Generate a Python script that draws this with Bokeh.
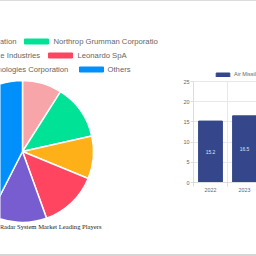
import math
from bokeh.plotting import figure
from bokeh.layouts import row
from bokeh.models import Range1d, FixedTicker, Legend, LegendItem
from bokeh.embed import file_html
from bokeh.resources import INLINE
from bokeh.core.properties import value

# ---------------- data ----------------
players = ["Lockheed Martin Corporation", "Northrop Grumman Corporation",
           "Israel Aerospace Industries", "Leonardo SpA",
           "Raytheon Technologies Corporation", "Others"]
shares = [9.0, 12.5, 9.7, 13.3, 13.0, 42.5]
player_colors = ["#F7A5A8", "#00E396", "#FEB019", "#FF4560", "#775DD0", "#008FFB"]

years = ["2022", "2023"]
market_size = [15.2, 16.5]
y_ticks = [0, 5, 10, 15, 20, 25]
bar_series = "Air Missile Defense Radar System Market Size"
pie_title = "Air Missile Defense Radar System Market Leading Players"

# ---------------- layout helpers ----------------
H = 253
def sy(ypx):
    return 254 - ypx

SANS = value("Liberation Sans")
GREY = "#666666"

# ---------------- pie ----------------
pie = figure(width=158, height=H, x_range=Range1d(0, 158), y_range=Range1d(0, H),
             output_backend="svg", toolbar_location=None, min_border=0)
pie.axis.visible = False
pie.grid.visible = False
pie.outline_line_color = None
pie.frame_align = False

total = sum(shares)
cum = 0.0
starts, ends = [], []
for s in shares:
    starts.append(math.pi / 2 - 2 * math.pi * cum / total)
    cum += s
    ends.append(math.pi / 2 - 2 * math.pi * cum / total)
pie.wedge(x=22, y=sy(151), radius=71, start_angle=starts, end_angle=ends,
          direction="clock", fill_color=player_colors, line_color="white", line_width=1.5)

# legend (row_y, swatch_left, text_x, text_align)
legend_layout = [(41, -112, 16, "right"), (41, 24, 53, "left"),
                 (55, -82, 40, "right"), (55, 48, 77, "left"),
                 (69, -84, 68, "right"), (69, 79, 107, "left")]
for (ry, sl, tx, al), name, col in zip(legend_layout, players, player_colors):
    pie.quad(left=sl, right=sl + 24, top=sy(ry - 2.5), bottom=sy(ry + 2.5),
             fill_color=col, line_color=col)
    pie.text(x=[tx], y=[sy(ry)], text=[name], text_align=al, text_baseline="middle",
             text_font=SANS, text_font_size="7.7px", text_color=GREY)

pie.text(x=[101], y=[sy(226)], text=[pie_title], text_align="right",
         text_baseline="middle", text_font=value("Liberation Serif"),
         text_font_size="6.6px", text_color="#222222")

# ---------------- bars ----------------
cat_w = 34.0
px_per_unit = 101 / 25.0
frame_h = 181
bar = figure(width=98, height=H, x_range=Range1d(0, 63 / cat_w),
             y_range=Range1d(0, frame_h / px_per_unit),
             output_backend="svg", toolbar_location=None,
             min_border_left=35, min_border_right=0, min_border_top=0, min_border_bottom=72)
bar.outline_line_color = None
bar.frame_align = False

xs = [i + 0.5 for i in range(len(years))]
bounds_x = [float(i) for i in range(len(years) + 1)]

# vertical category grid lines (0..25 only)
bar.segment(x0=bounds_x, y0=0, x1=bounds_x, y1=y_ticks[-1], line_color="#e8e8e8", line_width=1)

r = bar.vbar(x=xs, top=market_size, width=0.7, fill_color="#35478A", line_color="#35478A")
bar.text(x=xs, y=[v / 2 for v in market_size], text=[str(v) for v in market_size],
         text_align="center", text_baseline="middle", text_font=SANS,
         text_font_size="5px", text_color="#dfe2ee")

leg = Legend(items=[LegendItem(label=bar_series, renderers=[r])],
             location=(21, 105), padding=0, margin=0, spacing=0,
             border_line_color=None, background_fill_alpha=0,
             glyph_width=17, glyph_height=5, label_height=5, label_standoff=3,
             label_text_font_size="5.5px", label_text_color=GREY,
             label_text_font="Liberation Sans", label_text_baseline="middle")
bar.add_layout(leg)

yt = FixedTicker(ticks=y_ticks, minor_ticks=[])
bar.yaxis.ticker = yt
bar.ygrid.ticker = yt
bar.yaxis.bounds = (y_ticks[0], y_ticks[-1])
bar.yaxis.axis_line_color = "#dddddd"
bar.yaxis.major_tick_line_color = "#dddddd"
bar.yaxis.major_tick_out = 3
bar.yaxis.major_tick_in = 0
bar.yaxis.minor_tick_line_color = None
bar.yaxis.major_label_text_font_size = "5.5px"
bar.yaxis.major_label_text_color = GREY
bar.yaxis.major_label_text_font = "Liberation Sans"
bar.yaxis.major_label_standoff = 1
bar.ygrid.grid_line_color = "#e8e8e8"

xt = FixedTicker(ticks=xs, minor_ticks=bounds_x)
bar.xaxis.ticker = xt
bar.xaxis.major_label_overrides = {x: y for x, y in zip(xs, years)}
bar.xaxis.major_tick_line_color = None
bar.xaxis.major_tick_out = 4
bar.xaxis.minor_tick_line_color = "#dddddd"
bar.xaxis.minor_tick_out = 4
bar.xaxis.minor_tick_in = 0
bar.xaxis.axis_line_color = "#dddddd"
bar.xaxis.major_label_text_font_size = "5.3px"
bar.xaxis.major_label_text_color = GREY
bar.xaxis.major_label_text_font = "Liberation Sans"
bar.xaxis.major_label_standoff = 1
bar.xgrid.grid_line_color = None

page = row(pie, bar, styles={"border-top": "1px solid #dcdcdc",
                             "border-bottom": "2px solid #d6d6d6"})
open("out.html", "w").write(file_html(page, INLINE))
